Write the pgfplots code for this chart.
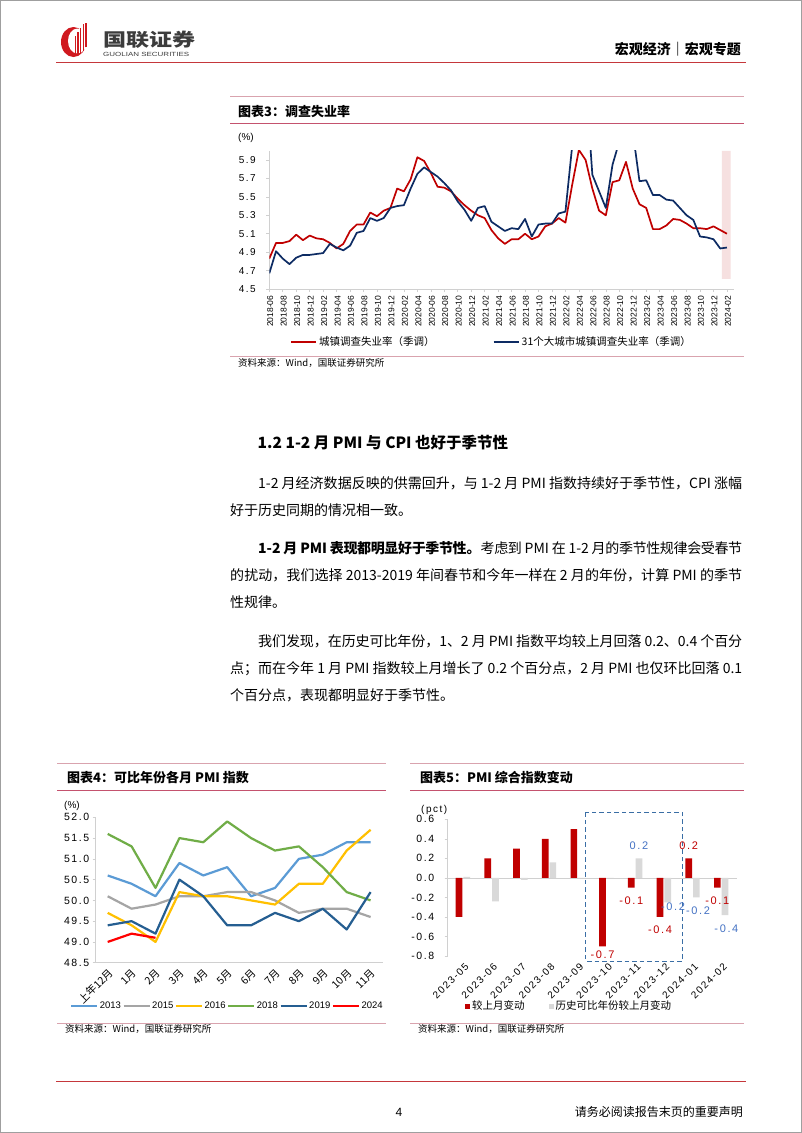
\documentclass[border=0pt]{standalone}
\usepackage{pgfplots}
\usepackage{pgfplotstable}
\pgfplotsset{compat=1.18}
\usepackage{fontspec}
\setmainfont{Noto Sans CJK SC}
\newfontfamily\arial{Liberation Sans}
\newfontfamily\arialw{Liberation Sans}[LetterSpace=15]
\XeTeXlinebreaklocale "zh"
\XeTeXlinebreakskip = 0pt plus 2pt minus 1pt
\definecolor{hdrred}{HTML}{C5373B}
\definecolor{pinkline}{HTML}{D9A3AE}
\definecolor{titleline}{HTML}{C4526E}
\definecolor{axgray}{HTML}{D0D0D0}
\definecolor{c3red}{HTML}{C00000}
\definecolor{c3blue}{HTML}{0D2B63}
\definecolor{y2013}{HTML}{5B9BD5}
\definecolor{y2015}{HTML}{A5A5A5}
\definecolor{y2016}{HTML}{FFC000}
\definecolor{y2018}{HTML}{70AD47}
\definecolor{y2019}{HTML}{255E91}
\definecolor{y2024}{HTML}{FF0000}
\definecolor{barred}{HTML}{C00000}
\definecolor{bargray}{HTML}{D9D9D9}
\definecolor{lblblue}{HTML}{4472C4}
\definecolor{boxblue}{HTML}{3A6EA5}
\definecolor{pinkshade}{HTML}{F6E0E0}
\definecolor{logored}{HTML}{D0191F}
\definecolor{logogray}{HTML}{3C3C3C}

\pgfplotstableread{
n urban city
0 4.83 4.67
1 5.00 4.91
2 5.00 4.83
3 5.02 4.77
4 5.09 4.84
5 5.03 4.87
6 5.08 4.87
7 5.05 4.88
8 5.04 4.89
9 5.00 4.99
10 4.94 4.95
11 4.99 4.92
12 5.13 4.97
13 5.20 5.11
14 5.20 5.13
15 5.33 5.27
16 5.29 5.24
17 5.35 5.27
18 5.38 5.38
19 5.59 5.40
20 5.56 5.41
21 5.69 5.59
22 5.93 5.75
23 5.89 5.82
24 5.76 5.77
25 5.61 5.72
26 5.60 5.65
27 5.56 5.57
28 5.48 5.45
29 5.41 5.36
30 5.35 5.24
31 5.30 5.38
32 5.27 5.40
33 5.14 5.23
34 5.05 5.18
35 4.99 5.13
36 5.04 5.16
37 5.04 5.15
38 5.10 5.26
39 5.04 5.07
40 5.07 5.20
41 5.18 5.21
42 5.21 5.21
43 5.27 5.32
44 5.22 5.34
45 5.63 6.05
46 6.01 6.70
47 5.90 6.78
48 5.59 5.74
49 5.35 5.56
50 5.30 5.38
51 5.66 5.85
52 5.68 6.10
53 5.88 6.30
54 5.59 6.21
55 5.42 5.67
56 5.38 5.68
57 5.15 5.52
58 5.15 5.52
59 5.19 5.47
60 5.26 5.46
61 5.25 5.38
62 5.21 5.30
63 5.16 5.25
64 5.16 5.07
65 5.15 5.06
66 5.18 5.04
67 5.14 4.94
68 5.10 4.95
}\unemp

\pgfplotstableread{
x a2013 a2015 a2016 a2018 a2019
0 50.6 50.1 49.7 51.6 49.4
1 50.4 49.8 49.4 51.3 49.5
2 50.1 49.9 49.0 50.3 49.2
3 50.9 50.1 50.2 51.5 50.5
4 50.6 50.1 50.1 51.4 50.1
5 50.8 50.2 50.1 51.9 49.4
6 50.1 50.2 50.0 51.5 49.4
7 50.3 50.0 49.9 51.2 49.7
8 51.0 49.7 50.4 51.3 49.5
9 51.1 49.8 50.4 50.8 49.8
10 51.4 49.8 51.2 50.2 49.3
11 51.4 49.6 51.7 50.0 50.2
}\pmi

\pgfplotstableread{
x a2024
0 49.0
1 49.2
2 49.1
}\pmicur

\pgfplotstableread{
x red gray
0 -0.4 0.01
1 0.2 -0.24
2 0.3 -0.02
3 0.4 0.16
4 0.5 0.0
5 -0.7 0.0
6 -0.1 0.2
7 -0.4 -0.25
8 0.2 -0.2
9 -0.1 -0.38
}\pmichg

\pgfplotsset{
  myaxis/.style={scale only axis, axis lines*=left,
    axis line style={draw=axgray, line width=0.8pt},
    tick style={draw=axgray, line width=0.6pt},
    major tick length=3pt, tick align=outside,
    /pgf/number format/assume math mode=true},
}

\begin{document}
\begin{tikzpicture}[x=1pt,y=1pt]
% page
\fill[white] (0,0) rectangle (802,-1133);
\draw[gray!75, line width=1.2pt] (0.6,-0.6) rectangle (801.4,-1132.4);

% ---------- header ----------
\fill[logored] (73.5,-42) ellipse [x radius=12.5, y radius=15];
\fill[white] (77.5,-41) ellipse [x radius=9.5, y radius=12.5];
\fill[logored] (74.5,-55) rectangle (75.8,-36);
\fill[logored] (77.2,-54.5) rectangle (78.5,-32);
\fill[logored] (79.9,-53.5) rectangle (81.2,-28);
\fill[logored] (82.6,-51) rectangle (84.0,-24);
\fill[logored] (85.2,-47) rectangle (86.5,-22.7);
\node[anchor=base west, inner sep=0, text=logogray] at (103,-46.5) {\scalebox{1.28}[1]{\fontsize{18}{18}\selectfont\bfseries 国联证券}};
\node[anchor=base west, inner sep=0, text=logogray] at (103,-56.5) {\scalebox{1.33}[1]{\arial\fontsize{6}{6}\selectfont GUOLIAN SECURITIES}};
\node[anchor=base east, inner sep=0] at (741,-54.5) {\fontsize{14}{14}\selectfont\bfseries 宏观经济｜宏观专题};
\draw[hdrred, line width=1.5pt] (56,-62.7) -- (746,-62.7);

% ---------- chart 3 frame ----------
\draw[pinkline, line width=0.8pt] (230,-96) -- (744,-96);
\node[anchor=base west, inner sep=0] at (238,-116) {\fontsize{13}{13}\selectfont\bfseries 图表3：调查失业率};
\draw[titleline, line width=1.3pt] (230,-123.3) -- (744,-123.3);
\draw[pinkline, line width=0.8pt] (230,-356.7) -- (744,-356.7);
\node[anchor=base west, inner sep=0] at (238,-366.5) {\fontsize{9.5}{9.5}\selectfont 资料来源：Wind，国联证券研究所};
\node[anchor=base west, inner sep=0] at (238,-140.5) {\arial\fontsize{10}{10}\selectfont (\%)};

\begin{axis}[myaxis,
  at={(269.3pt,-289pt)}, anchor=south west,
  width=464.4pt, height=138.2pt,
  xmin=0, xmax=69, ymin=4.5, ymax=6.0,
  xtick={0,2,...,68},
  xticklabels={2018-06,2018-08,2018-10,2018-12,2019-02,2019-04,2019-06,2019-08,2019-10,2019-12,2020-02,2020-04,2020-06,2020-08,2020-10,2020-12,2021-02,2021-04,2021-06,2021-08,2021-10,2021-12,2022-02,2022-04,2022-06,2022-08,2022-10,2022-12,2023-02,2023-04,2023-06,2023-08,2023-10,2023-12,2024-02},
  ytick={4.5,4.7,4.9,5.1,5.3,5.5,5.7,5.9},
  yticklabel style={font=\arialw\fontsize{10}{10}\selectfont, /pgf/number format/fixed, /pgf/number format/fixed zerofill, /pgf/number format/precision=1, xshift=-7pt},
  xticklabel style={font=\arial\fontsize{8.5}{8.5}\selectfont, rotate=90, anchor=east, yshift=-1pt},
  legend columns=2,
  legend style={at={(0.0446,-0.3835)}, anchor=west, draw=none, fill=none, inner sep=0pt,
    font=\fontsize{10.5}{10.5}\selectfont,
    /tikz/every even column/.append style={column sep=56pt}},
  legend image code/.code={\draw[#1, line width=2pt] (0pt,0pt) -- (25pt,0pt);},
]
\addplot[fill=pinkshade, draw=none, forget plot] coordinates {(67.25,4.61) (68.55,4.61) (68.55,6.0) (67.25,6.0) (67.25,4.61)};
\addplot[c3red, line width=1.7pt, line join=round] table[x=n, y=urban] {\unemp};
\addlegendentry{城镇调查失业率（季调）}
\addplot[c3blue, line width=1.7pt, line join=round] table[x=n, y=city] {\unemp};
\addlegendentry{31个大城市城镇调查失业率（季调）}
\end{axis}

% ---------- text ----------
\node[anchor=base west, inner sep=0] at (257.5,-448.5) {\fontsize{15.5}{15.5}\selectfont\bfseries 1.2 1-2 月 PMI 与 CPI 也好于季节性};

\node[anchor=base west, inner sep=0, text width=512pt, align=justify, font={\fontsize{14}{27}\selectfont}] at (230,-488.5) {\baselineskip=27pt\noindent\hspace*{28pt}1-2 月经济数据反映的供需回升，与 1-2 月 PMI 指数持续好于季节性，CPI 涨幅\linebreak 好于历史同期的情况相一致。\par};

\node[anchor=base west, inner sep=0, text width=512pt, align=justify, font={\fontsize{14}{27}\selectfont}] at (230,-553.5) {\baselineskip=27pt\noindent\hspace*{28pt}\textbf{1-2 月 PMI 表现都明显好于季节性。}考虑到 PMI 在 1-2 月的季节性规律会受春节\linebreak 的扰动，我们选择 2013-2019 年间春节和今年一样在 2 月的年份，计算 PMI 的季节\linebreak 性规律。\par};

\node[anchor=base west, inner sep=0, text width=512pt, align=justify, font={\fontsize{14}{27}\selectfont}] at (230,-646.9) {\baselineskip=27pt\noindent\hspace*{28pt}我们发现，在历史可比年份，1、2 月 PMI 指数平均较上月回落 0.2、0.4 个百分\linebreak 点；而在今年 1 月 PMI 指数较上月增长了 0.2 个百分点，2 月 PMI 也仅环比回落 0.1\linebreak 个百分点，表现都明显好于季节性。\par};

% ---------- chart 4 frame ----------
\draw[pinkline, line width=0.8pt] (57,-763.3) -- (386,-763.3);
\node[anchor=base west, inner sep=0] at (67,-782) {\fontsize{13}{13}\selectfont\bfseries 图表4：可比年份各月 PMI 指数};
\draw[titleline, line width=1.3pt] (57,-790.7) -- (386,-790.7);
\draw[pinkline, line width=0.8pt] (57,-1023.3) -- (386,-1023.3);
\node[anchor=base west, inner sep=0] at (65,-1032.5) {\fontsize{9.5}{9.5}\selectfont 资料来源：Wind，国联证券研究所};
\node[anchor=base west, inner sep=0] at (64,-808) {\arial\fontsize{10}{10}\selectfont (\%)};

\begin{axis}[myaxis,
  at={(95.75pt,-962.7pt)}, anchor=south west,
  width=286.8pt, height=145.4pt,
  xmin=-0.5, xmax=11.5, ymin=48.5, ymax=52,
  xtick={0,...,11},
  xticklabels={上年12月,1月,2月,3月,4月,5月,6月,7月,8月,9月,10月,11月},
  xtick style={draw=none},
  ytick={48.5,49,49.5,50,50.5,51,51.5,52},
  yticklabel style={font=\arialw\fontsize{10.5}{10.5}\selectfont, /pgf/number format/fixed, /pgf/number format/fixed zerofill, /pgf/number format/precision=1, xshift=0pt},
  xticklabel style={font=\fontsize{10.5}{10.5}\selectfont, rotate=45, anchor=east, xshift=2pt, yshift=-6pt},
  legend columns=6,
  legend style={at={(-0.0898,-0.298)}, anchor=west, draw=none, fill=none, inner sep=0pt,
    font=\arial\fontsize{9.5}{9.5}\selectfont,
    nodes={inner sep=1.5pt},
    /tikz/every even column/.append style={column sep=0pt}},
  legend image code/.code={\draw[#1, line width=2.2pt] (0pt,0pt) -- (26pt,0pt);},
]
\addplot[y2013, line width=2.2pt, line join=round] table[x=x, y=a2013] {\pmi};
\addlegendentry{2013}
\addplot[y2015, line width=2.2pt, line join=round] table[x=x, y=a2015] {\pmi};
\addlegendentry{2015}
\addplot[y2016, line width=2.2pt, line join=round] table[x=x, y=a2016] {\pmi};
\addlegendentry{2016}
\addplot[y2018, line width=2.2pt, line join=round] table[x=x, y=a2018] {\pmi};
\addlegendentry{2018}
\addplot[y2019, line width=2.2pt, line join=round] table[x=x, y=a2019] {\pmi};
\addlegendentry{2019}
\addplot[y2024, line width=2.2pt, line join=round] table[x=x, y=a2024] {\pmicur};
\addlegendentry{2024}
\end{axis}

% ---------- chart 5 frame ----------
\draw[pinkline, line width=0.8pt] (410,-763.3) -- (744,-763.3);
\node[anchor=base west, inner sep=0] at (420,-782) {\fontsize{13}{13}\selectfont\bfseries 图表5：PMI 综合指数变动};
\draw[titleline, line width=1.3pt] (410,-790.7) -- (744,-790.7);
\draw[pinkline, line width=0.8pt] (410,-1023.3) -- (744,-1023.3);
\node[anchor=base west, inner sep=0] at (418,-1032.5) {\fontsize{9.5}{9.5}\selectfont 资料来源：Wind，国联证券研究所};
\node[anchor=base west, inner sep=0] at (421,-812.5) {\arialw\fontsize{10}{10}\selectfont (pct)};

\begin{axis}[myaxis,
  at={(447.7pt,-956pt)}, anchor=south west,
  width=289pt, height=136.7pt,
  xmin=-0.53, xmax=9.54, ymin=-0.8, ymax=0.6,
  ybar, bar width=6.7pt,
  x axis line style={draw=none}, xtick style={draw=none},
  xtick={0,...,9},
  xticklabels={2023-05,2023-06,2023-07,2023-08,2023-09,2023-10,2023-11,2023-12,2024-01,2024-02},
  ytick={-0.8,-0.6,-0.4,-0.2,0,0.2,0.4,0.6},
  extra y ticks={0}, extra y tick labels={},
  extra y tick style={grid=major, major grid style={draw=axgray, line width=0.8pt}},
  yticklabel style={font=\arialw\fontsize{10.5}{10.5}\selectfont, /pgf/number format/fixed, /pgf/number format/fixed zerofill, /pgf/number format/precision=1, xshift=-7pt},
  xticklabel style={font=\arialw\fontsize{10}{10}\selectfont, rotate=45, anchor=east, xshift=2pt, yshift=-7pt},
  clip=false,
  legend columns=2,
  legend style={at={(0.06,-0.366)}, anchor=west, draw=none, fill=none, inner sep=0pt,
    font=\fontsize{10.5}{10.5}\selectfont,
    /tikz/every even column/.append style={column sep=22pt}},
]
\addplot[fill=barred, draw=none, bar shift=-3.85pt,
  legend image code/.code={\fill[barred] (0pt,-2.5pt) rectangle (5pt,2.5pt);}] table[x=x, y=red] {\pmichg};
\addlegendentry{较上月变动}
\addplot[fill=bargray, draw=none, bar shift=3.85pt,
  legend image code/.code={\fill[bargray] (0pt,-2.5pt) rectangle (5pt,2.5pt);}] table[x=x, y=gray] {\pmichg};
\addlegendentry{历史可比年份较上月变动}
\draw[boxblue, line width=1.2pt, dash pattern=on 4.5pt off 3pt] (axis cs:4.28,0.67) rectangle (axis cs:7.64,-0.853);
\node[text=barred, font=\arialw\fontsize{11}{11}\selectfont] at (axis cs:4.866,-0.783) {-0.7};
\node[text=barred, font=\arialw\fontsize{11}{11}\selectfont] at (axis cs:5.866,-0.229) {-0.1};
\node[text=barred, font=\arialw\fontsize{11}{11}\selectfont] at (axis cs:6.866,-0.529) {-0.4};
\node[text=barred, font=\arialw\fontsize{11}{11}\selectfont] at (axis cs:7.866,0.328) {0.2};
\node[text=barred, font=\arialw\fontsize{11}{11}\selectfont] at (axis cs:8.866,-0.229) {-0.1};
\node[text=lblblue, font=\arialw\fontsize{11}{11}\selectfont] at (axis cs:6.134,0.328) {0.2};
\node[text=lblblue, font=\arialw\fontsize{11}{11}\selectfont] at (axis cs:7.324,-0.290) {-0.2};
\node[text=lblblue, font=\arialw\fontsize{11}{11}\selectfont] at (axis cs:8.195,-0.331) {-0.2};
\node[text=lblblue, font=\arialw\fontsize{11}{11}\selectfont] at (axis cs:9.181,-0.519) {-0.4};
\end{axis}

% ---------- footer ----------
\draw[hdrred, line width=1.5pt] (56,-1081.7) -- (746,-1081.7);
\node[anchor=base, inner sep=0] at (399,-1116) {\arial\fontsize{12}{12}\selectfont 4};
\node[anchor=base east, inner sep=0] at (743,-1116) {\fontsize{12}{12}\selectfont 请务必阅读报告末页的重要声明};
\end{tikzpicture}
\end{document}
